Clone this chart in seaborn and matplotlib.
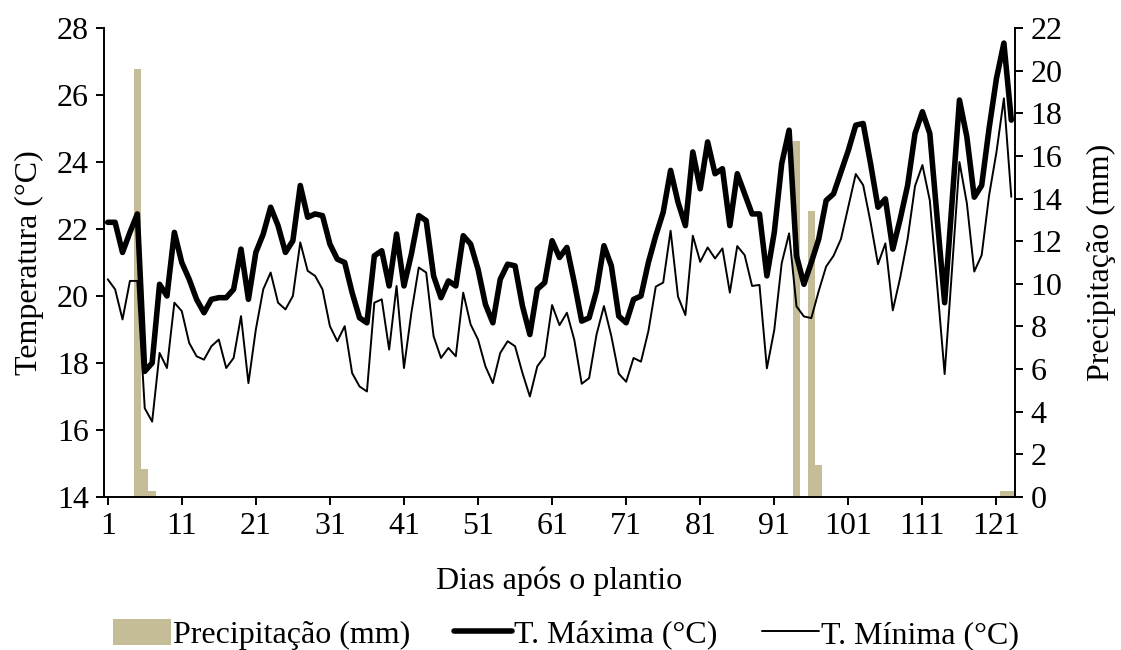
import matplotlib
matplotlib.use("Agg")
import matplotlib.pyplot as plt
import seaborn as sns
from matplotlib.patches import Patch
from matplotlib.lines import Line2D

# Daily weather after planting
days = list(range(1, 124))

t_max = [22.2, 22.2, 21.3, 21.9, 22.45, 17.75, 18.0, 20.35, 20.0, 21.9,
         21.0, 20.5, 19.9, 19.5, 19.9, 19.95, 19.95, 20.2, 21.4, 19.9,
         21.3, 21.85, 22.65, 22.1, 21.3, 21.65, 23.3, 22.35, 22.45, 22.4,
         21.55, 21.1, 21.0, 20.1, 19.35, 19.2, 21.2, 21.35, 20.3, 21.85,
         20.3, 21.25, 22.4, 22.25, 20.6, 19.95, 20.45, 20.3, 21.8, 21.55,
         20.8, 19.75, 19.2, 20.5, 20.95, 20.9, 19.7, 18.85, 20.2, 20.4,
         21.65, 21.15, 21.45, 20.4, 19.25, 19.35, 20.15, 21.5, 20.9, 19.4,
         19.2, 19.9, 20.0, 21.0, 21.8, 22.5, 23.75, 22.8, 22.1, 24.3,
         23.2, 24.6, 23.65, 23.8, 22.1, 23.65, 23.05, 22.45, 22.45, 20.6,
         21.9, 23.95, 24.95, 21.2, 20.35, 21.0, 21.7, 22.85, 23.05, 23.7,
         24.35, 25.1, 25.15, 23.95, 22.65, 22.9, 21.4, 22.3, 23.3, 24.85,
         25.5, 24.85, 22.3, 19.8, 22.8, 25.85, 24.75, 22.95, 23.3, 25.0,
         26.5, 27.55, 25.25]

t_min = [20.5, 20.2, 19.3, 20.45, 20.45, 16.65, 16.25, 18.3, 17.85, 19.8,
         19.55, 18.6, 18.2, 18.1, 18.5, 18.7, 17.85, 18.15, 19.4, 17.4,
         19.0, 20.2, 20.7, 19.8, 19.6, 20.0, 21.6, 20.75, 20.6, 20.2,
         19.1, 18.65, 19.1, 17.7, 17.3, 17.15, 19.8, 19.9, 18.4, 20.3,
         17.85, 19.5, 20.85, 20.7, 18.8, 18.15, 18.45, 18.2, 20.1, 19.15,
         18.7, 17.9, 17.4, 18.3, 18.65, 18.5, 17.7, 17.0, 17.9, 18.2,
         19.73, 19.13, 19.5, 18.69, 17.38, 17.55, 18.85, 19.7, 18.8, 17.68,
         17.44, 18.15, 18.04, 18.95, 20.28, 20.4, 21.95, 19.98, 19.43, 21.8,
         21.02, 21.45, 21.12, 21.42, 20.1, 21.49, 21.22, 20.3, 20.33, 17.84,
         18.99, 20.98, 21.87, 19.69, 19.39, 19.34, 20.15, 20.88, 21.2, 21.7,
         22.67, 23.64, 23.31, 22.2, 20.95, 21.57, 19.57, 20.55, 21.7, 23.28,
         23.91, 22.85, 20.3, 17.67, 20.8, 24.0, 22.77, 20.73, 21.22, 23.0,
         24.3, 25.9, 22.96]

rain_days = [5, 6, 7, 94, 96, 97, 122, 123]
rain_mm = [20.1, 1.3, 0.3, 16.7, 13.4, 1.5, 0.3, 0.3]

x_ticks = list(range(1, 124, 10))
temp_ticks = list(range(14, 29, 2))
rain_ticks = list(range(0, 23, 2))

# full daily precipitation series (zero on dry days)
precip = [0.0] * len(days)
for d, v in zip(rain_days, rain_mm):
    precip[days.index(d)] = v

sns.set_style("white")
plt.rcParams["font.family"] = ["Liberation Serif", "DejaVu Serif"]
plt.rcParams["font.size"] = 23
plt.rcParams["text.color"] = "black"
plt.rcParams["axes.labelcolor"] = "black"

BAR_COLOR = "#C4BD97"
FS = 23
LW_MAX = 4.0
LW_MIN = 1.4

fig = plt.figure(figsize=(11.21, 6.5), dpi=100)
ax = fig.add_axes([104 / 1121, 1 - 497 / 650, (1015 - 104) / 1121, (497 - 28) / 650])
ax2 = ax.twinx()

# precipitation bars on the secondary axis
sns.barplot(x=days, y=precip, native_scale=True, color=BAR_COLOR, saturation=1,
            width=1.0, errorbar=None, linewidth=0, ax=ax2)

# temperature lines on the primary axis
sns.lineplot(x=days, y=t_max, ax=ax, color="black", linewidth=LW_MAX)
sns.lineplot(x=days, y=t_min, ax=ax, color="black", linewidth=LW_MIN)

ax.set_zorder(ax2.get_zorder() + 1)
ax.patch.set_visible(False)

ax.set_xlim(0.5, 123.5)
ax2.set_xlim(0.5, 123.5)
ax.set_ylim(14, 28)
ax2.set_ylim(0, 22)
ax.set_xticks(x_ticks)
ax.set_xticklabels([str(t) for t in x_ticks])
ax.set_yticks(temp_ticks)
ax2.set_yticks(rain_ticks)

ax.set_xlabel("Dias após o plantio", fontsize=FS, labelpad=18, color="black")
ax.set_ylabel("Temperatura (°C)", fontsize=FS, labelpad=9, color="black")
ax2.set_ylabel("Precipitação (mm)", fontsize=FS, labelpad=18, color="black")

for a in (ax, ax2):
    a.grid(False)
    a.spines["top"].set_visible(False)
    for s in ("left", "right", "bottom"):
        a.spines[s].set_color("black")
        a.spines[s].set_linewidth(1.4)
    a.tick_params(direction="out", length=6, width=1.4, colors="black",
                  labelsize=FS, pad=5)
ax.spines["right"].set_visible(False)
ax2.spines["left"].set_visible(False)
ax2.spines["bottom"].set_visible(False)
ax.tick_params(axis="y", right=False, left=True)
ax.tick_params(axis="x", bottom=True)
ax2.tick_params(axis="y", right=True, left=False)

handles = [
    Patch(facecolor=BAR_COLOR, edgecolor="none"),
    Line2D([], [], color="black", linewidth=LW_MAX),
    Line2D([], [], color="black", linewidth=LW_MIN),
]
labels = ["Precipitação (mm)", "T. Máxima (°C)", "T. Mínima (°C)"]
fig.legend(handles, labels, loc="lower center", bbox_to_anchor=(0.505, 0.0),
           ncol=3, frameon=False, fontsize=FS, handlelength=1.8,
           handleheight=0.9, handletextpad=0.05, columnspacing=1.4,
           borderpad=0.0, borderaxespad=0.0)

fig.savefig("out.png", dpi=100)
